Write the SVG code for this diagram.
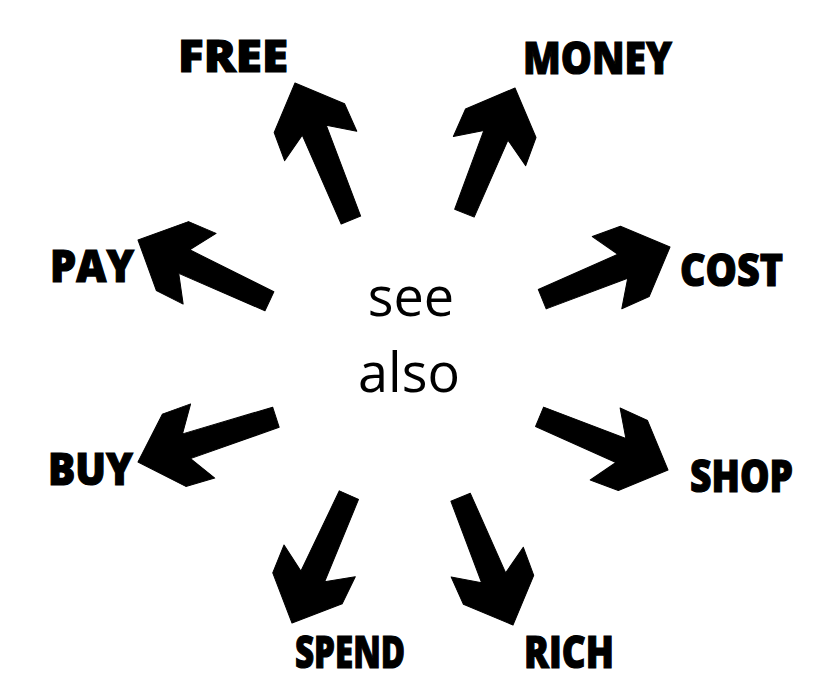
<svg xmlns="http://www.w3.org/2000/svg" width="832" height="682" viewBox="0 0 832 682">
  <style>
    .lbl { font-family: "Open Sans", "DejaVu Sans", sans-serif; font-weight: 800; font-size: 45px; fill: #000; stroke: #000; stroke-width: 1.2; }
    .center { font-family: "Open Sans", "DejaVu Sans", sans-serif; font-weight: 400; font-size: 54px; fill: #000; text-anchor: middle; }
    .arrow { fill: #000; stroke: #000; stroke-width: 1; stroke-linejoin: round; }
  </style>
  <rect width="832" height="682" fill="#fff"/>
  <g id="connectors">
    <path class="arrow" transform="translate(295,83) rotate(-112.2)" d="M0,0 L-38,-38 L-68,-39 L-51,-13 L-148,-10.5 L-148,10.5 L-51,13 L-68,39 L-38,38 Z"/>
    <path class="arrow" transform="translate(515,88) rotate(-68)" d="M0,0 L-38,-38 L-68,-39 L-51,-13 L-135,-10.5 L-135,10.5 L-51,13 L-68,39 L-38,38 Z"/>
    <path class="arrow" transform="translate(138,240) rotate(-155)" d="M0,0 L-38,-38 L-68,-39 L-51,-13 L-145,-10.5 L-145,10.5 L-51,13 L-68,39 L-38,38 Z"/>
    <path class="arrow" transform="translate(670,247) rotate(-22.2)" d="M0,0 L-38,-38 L-68,-39 L-51,-13 L-138,-10.5 L-138,10.5 L-51,13 L-68,39 L-38,38 Z"/>
    <path class="arrow" transform="translate(138,462) rotate(162)" d="M0,0 L-38,-38 L-68,-39 L-51,-13 L-145,-10.5 L-145,10.5 L-51,13 L-68,39 L-38,38 Z"/>
    <path class="arrow" transform="translate(668,470) rotate(22.5)" d="M0,0 L-38,-38 L-68,-39 L-51,-13 L-139,-10.5 L-139,10.5 L-51,13 L-68,39 L-38,38 Z"/>
    <path class="arrow" transform="translate(292,623) rotate(114)" d="M0,0 L-38,-38 L-68,-39 L-51,-13 L-140,-10.5 L-140,10.5 L-51,13 L-68,39 L-38,38 Z"/>
    <path class="arrow" transform="translate(513,625) rotate(67.7)" d="M0,0 L-38,-38 L-68,-39 L-51,-13 L-138,-10.5 L-138,10.5 L-51,13 L-68,39 L-38,38 Z"/>
  </g>
  <g id="center">
    <text class="center" x="411" y="316">see</text>
    <text class="center" x="409" y="392">also</text>
  </g>
  <g id="free"><text class="lbl" x="178" y="72" textLength="110" lengthAdjust="spacingAndGlyphs">FREE</text></g>
  <g id="money"><text class="lbl" x="523" y="74" textLength="149" lengthAdjust="spacingAndGlyphs">MONEY</text></g>
  <g id="pay"><text class="lbl" x="50" y="282" textLength="84" lengthAdjust="spacingAndGlyphs">PAY</text></g>
  <g id="cost"><text class="lbl" x="680" y="286" textLength="103" lengthAdjust="spacingAndGlyphs">COST</text></g>
  <g id="buy"><text class="lbl" x="48" y="485" textLength="85" lengthAdjust="spacingAndGlyphs">BUY</text></g>
  <g id="shop"><text class="lbl" x="690" y="492" textLength="103" lengthAdjust="spacingAndGlyphs">SHOP</text></g>
  <g id="spend"><text class="lbl" x="295" y="668" textLength="110" lengthAdjust="spacingAndGlyphs">SPEND</text></g>
  <g id="rich"><text class="lbl" x="524" y="668" textLength="90" lengthAdjust="spacingAndGlyphs">RICH</text></g>
</svg>
